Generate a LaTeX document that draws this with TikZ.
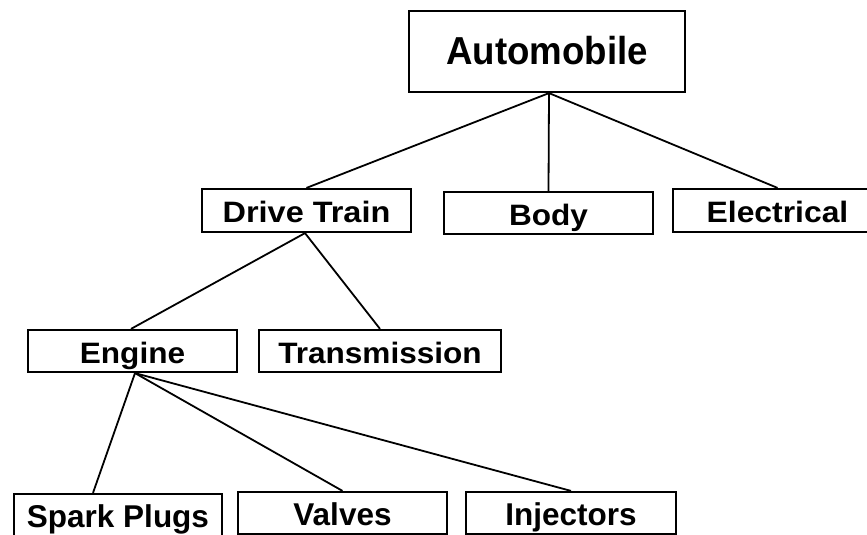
\documentclass[tikz,border=0pt]{standalone}
\usepackage{fontspec}
\usepackage{graphicx}
\setmainfont{Liberation Sans}
\begin{document}
\begin{tikzpicture}[x=1pt,y=-1pt,
  box/.style={draw, line width=2.2pt, inner sep=0pt, minimum height=42pt,
    text height=24pt, text depth=0pt, font=\bfseries\fontsize{29.5}{34}\selectfont},
  topbox/.style={box, minimum width=276pt, minimum height=81pt, text height=27pt,
    font=\bfseries\fontsize{39}{46}\selectfont},
  leafbox/.style={box, font=\bfseries\fontsize{31.5}{37}\selectfont},
  link/.style={line width=1.8pt}]
\useasboundingbox (0,0) rectangle (867,535);
\clip (0,0) rectangle (867,535);
\fill[white] (0,0) rectangle (867,535);

% tree nodes
\node[topbox] (auto) at (547,51.5) {\scalebox{0.94}[1]{Automobile}};

\node[box, minimum width=209pt, minimum height=43pt] (dt) at (306.5,210.5) {\scalebox{1.1}[1]{Drive Train}};
\node[box, minimum width=209pt] (body) at (548.5,213) {\scalebox{1.07}[1]{Body}};
\node[box, minimum width=209pt, minimum height=43pt] (elec) at (777.5,210.5) {\scalebox{1.08}[1]{Electrical}};

\node[box, minimum width=209pt] (engine) at (132.5,351) {\scalebox{1.07}[1]{Engine}};
\node[box, minimum width=242pt] (trans) at (380,351) {\scalebox{1.07}[1]{Transmission}};

\node[leafbox, minimum width=208pt] (spark) at (118,515) {Spark Plugs};
\node[leafbox, minimum width=209pt] (valves) at (342.5,513) {Valves};
\node[leafbox, minimum width=210pt] (inj) at (571,513) {Injectors};

% connectors
\draw[link] ([xshift=2pt]auto.south) -- (dt.north);
\draw[link] ([xshift=2pt]auto.south) -- (body.north);
\draw[link] ([xshift=2pt]auto.south) -- (elec.north);

\draw[link] ([xshift=-1.5pt]dt.south) -- ([xshift=-1.5pt]engine.north);
\draw[link] ([xshift=-1.5pt]dt.south) -- (trans.north);

\draw[link] ([xshift=2.5pt]engine.south) -- ([xshift=-25pt]spark.north);
\draw[link] ([xshift=2.5pt]engine.south) -- (valves.north);
\draw[link] ([xshift=2.5pt]engine.south) -- (inj.north);
\end{tikzpicture}
\end{document}
